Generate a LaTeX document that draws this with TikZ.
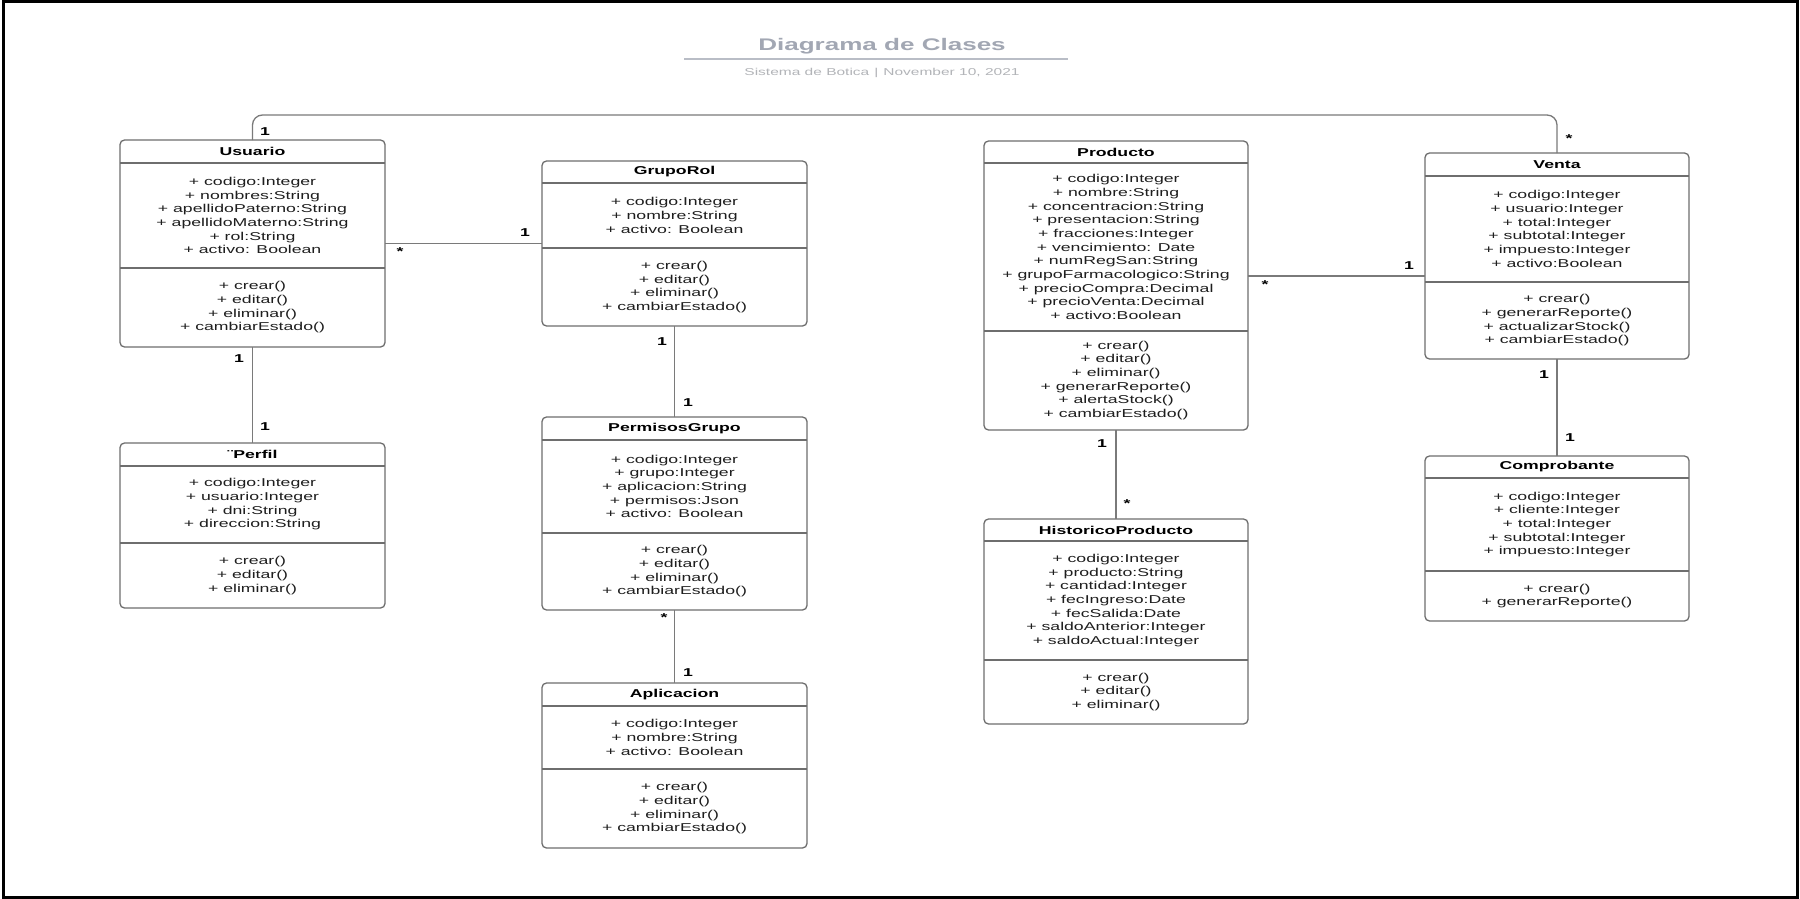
\documentclass[tikz,border=0pt]{standalone}
\usepackage{fontspec}
\newfontfamily\umlfont{Liberation Sans}[FakeStretch=1.55]
\definecolor{boxgray}{HTML}{6E6E6E}
\definecolor{linegray}{HTML}{7A7A7A}
\definecolor{titlegray}{HTML}{A2A7B3}
\definecolor{subgray}{HTML}{B2B4B8}
\definecolor{rulegray}{HTML}{B9BDC6}
\definecolor{membertext}{HTML}{1E1E1E}

% One UML class: id, left, top, right, bottom, header rule, member rule, title
\newcommand{\classframe}[8]{%
  \pgfmathsetmacro{\clsw}{#4-#2}%
  \pgfmathsetmacro{\clsh}{#5-#3}%
  \pgfmathsetmacro{\clsx}{(#2+#4)/2}%
  \pgfmathsetmacro{\clsy}{(#3+#5)/2}%
  \pgfmathsetmacro{\clsty}{(#3+#6)/2}%
  \pgfmathsetmacro{\attry}{(#6+#7)/2}%
  \pgfmathsetmacro{\methy}{(#7+#5)/2}%
  \node[classbox, minimum width=\clsw pt, minimum height=\clsh pt] (#1) at (\clsx,\clsy) {};
  \draw[divider] (#2,#6) -- (#4,#6) (#2,#7) -- (#4,#7);
  \node[classtitle] (#1-title) at (\clsx,\clsty) {#8};
}

\begin{document}
\begin{tikzpicture}[x=1pt,y=-1pt,
  classbox/.style={draw=boxgray, line width=1.3pt, rounded corners=4.5pt, fill=white, inner sep=0pt, outer sep=0pt},
  divider/.style={draw=boxgray, line width=1.2pt},
  classtitle/.style={font=\umlfont\bfseries\fontsize{11.4}{13.65}\selectfont, inner sep=0pt, text=black},
  members/.style={font=\umlfont\fontsize{11.4}{13.65}\selectfont, align=center, inner sep=0pt, text=membertext},
  assoc/.style={draw=linegray, line width=1.3pt},
  mult/.style={font=\umlfont\bfseries\fontsize{11.4}{13}\selectfont, inner sep=0pt, text=black},
]
\useasboundingbox (0,0) rectangle (1800,899);
\fill[white] (0,0) rectangle (1800,899);
\draw[black, line width=2.6pt] (3.5,1.5) rectangle (1797.5,897.5);

% heading
\node[font=\umlfont\bfseries\fontsize{16.8}{20}\selectfont, text=titlegray, inner sep=0pt] (heading) at (882,46) {Diagrama de Clases};
\draw[rulegray, line width=1.3pt] (684,59) -- (1068,59);
\node[font=\umlfont\fontsize{10}{12}\selectfont, text=subgray, inner sep=0pt] (subheading) at (882,73) {Sistema de Botica\hspace{5pt}|\hspace{5pt}November 10, 2021};

% classes
\classframe{usuario}{120}{140}{385}{347}{163}{268}{Usuario}
\node[members] (usuario-attr) at (\clsx,\attry) {+ codigo:Integer\\+ nombres:String\\+ apellidoPaterno:String\\+ apellidoMaterno:String\\+ rol:String\\+ activo: Boolean};
\node[members] (usuario-meth) at (\clsx,\methy) {+ crear()\\+ editar()\\+ eliminar()\\+ cambiarEstado()};

\classframe{perfil}{120}{443}{385}{608}{466}{543}{¨Perfil}
\node[members] (perfil-attr) at (\clsx,\attry) {+ codigo:Integer\\+ usuario:Integer\\+ dni:String\\+ direccion:String};
\node[members] (perfil-meth) at (\clsx,\methy) {+ crear()\\+ editar()\\+ eliminar()};

\classframe{gruporol}{542}{161}{807}{326}{183}{248}{GrupoRol}
\node[members] (gruporol-attr) at (\clsx,\attry) {+ codigo:Integer\\+ nombre:String\\+ activo: Boolean};
\node[members] (gruporol-meth) at (\clsx,\methy) {+ crear()\\+ editar()\\+ eliminar()\\+ cambiarEstado()};

\classframe{permisos}{542}{417}{807}{610}{440}{533}{PermisosGrupo}
\node[members] (permisos-attr) at (\clsx,\attry) {+ codigo:Integer\\+ grupo:Integer\\+ aplicacion:String\\+ permisos:Json\\+ activo: Boolean};
\node[members] (permisos-meth) at (\clsx,\methy) {+ crear()\\+ editar()\\+ eliminar()\\+ cambiarEstado()};

\classframe{aplicacion}{542}{683}{807}{848}{706}{769}{Aplicacion}
\node[members] (aplicacion-attr) at (\clsx,\attry) {+ codigo:Integer\\+ nombre:String\\+ activo: Boolean};
\node[members] (aplicacion-meth) at (\clsx,\methy) {+ crear()\\+ editar()\\+ eliminar()\\+ cambiarEstado()};

\classframe{producto}{984}{141}{1248}{430}{163}{331}{Producto}
\node[members] (producto-attr) at (\clsx,\attry) {+ codigo:Integer\\+ nombre:String\\+ concentracion:String\\+ presentacion:String\\+ fracciones:Integer\\+ vencimiento: Date\\+ numRegSan:String\\+ grupoFarmacologico:String\\+ precioCompra:Decimal\\+ precioVenta:Decimal\\+ activo:Boolean};
\node[members] (producto-meth) at (\clsx,\methy) {+ crear()\\+ editar()\\+ eliminar()\\+ generarReporte()\\+ alertaStock()\\+ cambiarEstado()};

\classframe{historico}{984}{519}{1248}{724}{541}{660}{HistoricoProducto}
\node[members] (historico-attr) at (\clsx,\attry) {+ codigo:Integer\\+ producto:String\\+ cantidad:Integer\\+ fecIngreso:Date\\+ fecSalida:Date\\+ saldoAnterior:Integer\\+ saldoActual:Integer};
\node[members] (historico-meth) at (\clsx,\methy) {+ crear()\\+ editar()\\+ eliminar()};

\classframe{venta}{1425}{153}{1689}{359}{176}{282}{Venta}
\node[members] (venta-attr) at (\clsx,\attry) {+ codigo:Integer\\+ usuario:Integer\\+ total:Integer\\+ subtotal:Integer\\+ impuesto:Integer\\+ activo:Boolean};
\node[members] (venta-meth) at (\clsx,\methy) {+ crear()\\+ generarReporte()\\+ actualizarStock()\\+ cambiarEstado()};

\classframe{comprobante}{1425}{456}{1689}{621}{478}{571}{Comprobante}
\node[members] (comprobante-attr) at (\clsx,\attry) {+ codigo:Integer\\+ cliente:Integer\\+ total:Integer\\+ subtotal:Integer\\+ impuesto:Integer};
\node[members] (comprobante-meth) at (\clsx,\methy) {+ crear()\\+ generarReporte()};

% associations
\coordinate (topbus) at (0,115);
\coordinate (pvlink) at (0,276);
\draw[assoc, rounded corners=10pt] (usuario.north) -- (usuario.north |- topbus) -- (venta.north |- topbus) -- (venta.north);
\draw[assoc] (usuario.east) -- (gruporol.west);
\draw[assoc] (usuario.south) -- (perfil.north);
\draw[assoc] (gruporol.south) -- (permisos.north);
\draw[assoc] (permisos.south) -- (aplicacion.north);
\draw[assoc] (producto.east |- pvlink) -- (venta.west |- pvlink);
\draw[assoc] (producto.south) -- (historico.north);
\draw[assoc] (venta.south) -- (comprobante.north);

% multiplicities
\node[mult] (m-us-top) at (265,132) {1};
\node[mult] (m-ve-top) at (1569,139) {*};
\node[mult] (m-us-gr) at (400,252) {*};
\node[mult] (m-gr-us) at (525,233) {1};
\node[mult] (m-us-pe) at (239,359) {1};
\node[mult] (m-pe-us) at (265,427) {1};
\node[mult] (m-gr-pg) at (662,342) {1};
\node[mult] (m-pg-gr) at (688,403) {1};
\node[mult] (m-pg-ap) at (664,618) {*};
\node[mult] (m-ap-pg) at (688,673) {1};
\node[mult] (m-pr-ve) at (1265,285) {*};
\node[mult] (m-ve-pr) at (1409,266) {1};
\node[mult] (m-pr-hi) at (1102,444) {1};
\node[mult] (m-hi-pr) at (1127,504) {*};
\node[mult] (m-ve-co) at (1544,375) {1};
\node[mult] (m-co-ve) at (1570,438) {1};
\end{tikzpicture}
\end{document}
